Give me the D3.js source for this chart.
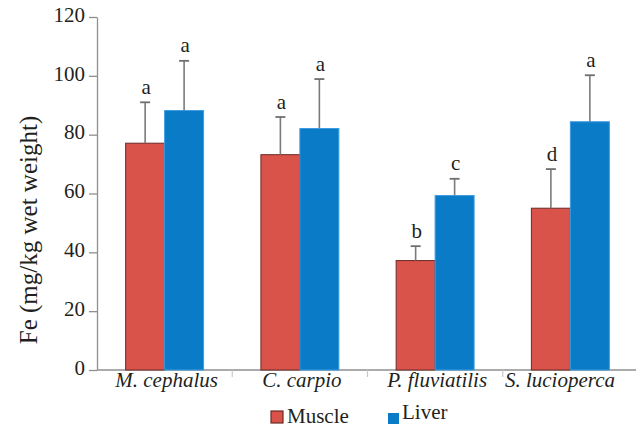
<!DOCTYPE html>
<html>
<head>
<meta charset="utf-8">
<script src="https://cdn.jsdelivr.net/npm/d3@7"></script>
<style>
  html, body { margin: 0; padding: 0; background: #fff; }
  svg { display: block; }
  svg text { font-family: 'Liberation Serif', 'Times New Roman', Times, 'DejaVu Serif', serif !important; fill: #231f20; }
</style>
</head>
<body>
<svg id="chart" width="636" height="427"></svg>
<script>
const categories = ["M. cephalus", "C. carpio", "P. fluviatilis", "S. lucioperca"];
const seriesNames = ["Muscle", "Liver"];
const muscleValues = [77.1, 73.2, 37.2, 55.0];
const muscleErrors = [13.9, 12.8, 4.9, 13.3];
const liverValues = [88.2, 82.1, 59.3, 84.4];
const liverErrors = [16.9, 16.8, 5.7, 15.8];
const muscleLetters = ["a", "a", "b", "d"];
const liverLetters = ["a", "a", "c", "a"];
const yTicks = [0, 20, 40, 60, 80, 100, 120];
const yTitle = "Fe (mg/kg wet weight)";

const SERIF = "'Liberation Serif', 'Times New Roman', Times, 'DejaVu Serif', serif";
const colors = { Muscle: "#d9534a", Liver: "#0a7bc7" };
const strokes = { Muscle: "#6b2a24", Liver: "#3d9be0" };

const rows = categories.map((c, i) => ({
  cat: c,
  series: [
    { name: "Muscle", value: muscleValues[i], err: muscleErrors[i], letter: muscleLetters[i] },
    { name: "Liver", value: liverValues[i], err: liverErrors[i], letter: liverLetters[i] }
  ]
}));

const svg = d3.select("#chart");
const x0 = 97, x1 = 638, yBottom = 370, yTop = 17;

const x = d3.scaleBand().domain(categories).range([x0, x1]).paddingInner(0).paddingOuter(0);
const xs = d3.scaleBand().domain(seriesNames).range([0, x.bandwidth()]).paddingInner(0).paddingOuter(0.735);
const y = d3.scaleLinear().domain([0, 120]).range([yBottom, yTop]);

const axisColor = "#8f8f8f";

// Y axis
const yAxis = svg.append("g").attr("transform", `translate(${x0},0)`)
  .call(d3.axisLeft(y).tickValues(yTicks).tickSize(8).tickSizeOuter(0).tickPadding(4));
yAxis.attr("font-family", SERIF);
yAxis.select(".domain").attr("stroke", axisColor).attr("stroke-width", 1.3);
yAxis.selectAll(".tick line").attr("stroke", axisColor).attr("stroke-width", 1.3);
yAxis.selectAll(".tick text").attr("font-size", 21).attr("dy", "0.2em")
  .attr("font-family", SERIF).attr("fill", "#231f20");

// X axis line and separators
svg.append("line").attr("x1", x0).attr("x2", 636).attr("y1", yBottom).attr("y2", yBottom)
  .attr("stroke", axisColor).attr("stroke-width", 1.3);
svg.selectAll(".sep").data(categories.slice(1)).enter().append("line")
  .attr("x1", d => x(d)).attr("x2", d => x(d))
  .attr("y1", yBottom).attr("y2", yBottom + 7)
  .attr("stroke", "#c8c8c8").attr("stroke-width", 1.2);

// Bars
const groups = svg.selectAll(".grp").data(rows).enter().append("g")
  .attr("transform", d => `translate(${x(d.cat)},0)`);

groups.selectAll("rect").data(d => d.series).enter().append("rect")
  .attr("x", d => xs(d.name))
  .attr("width", xs.bandwidth())
  .attr("y", d => y(d.value))
  .attr("height", d => y(0) - y(d.value))
  .attr("fill", d => colors[d.name])
  .attr("stroke", d => strokes[d.name])
  .attr("stroke-width", 1);

// Error bars
const capW = 10;
groups.selectAll(".err").data(d => d.series).enter().append("line")
  .attr("x1", d => xs(d.name) + xs.bandwidth() / 2)
  .attr("x2", d => xs(d.name) + xs.bandwidth() / 2)
  .attr("y1", d => y(d.value))
  .attr("y2", d => y(d.value + d.err))
  .attr("stroke", "#7a7a7a").attr("stroke-width", 1.6);
groups.selectAll(".cap").data(d => d.series).enter().append("line")
  .attr("x1", d => xs(d.name) + xs.bandwidth() / 2 - capW / 2)
  .attr("x2", d => xs(d.name) + xs.bandwidth() / 2 + capW / 2)
  .attr("y1", d => y(d.value + d.err))
  .attr("y2", d => y(d.value + d.err))
  .attr("stroke", "#6f6f6f").attr("stroke-width", 1.8);

// Letters
groups.selectAll(".lbl").data(d => d.series).enter().append("text")
  .attr("x", d => xs(d.name) + xs.bandwidth() / 2 + 1)
  .attr("y", d => y(d.value + d.err) - 8.5)
  .attr("text-anchor", "middle")
  .attr("font-family", SERIF)
  .attr("font-size", 21)
  .text(d => d.letter);

// Category labels
const catLabels = svg.selectAll(".cat").data(categories).enter().append("text")
  .attr("y", 387)
  .attr("text-anchor", "middle")
  .attr("font-family", SERIF)
  .attr("font-size", 21)
  .attr("font-style", "italic")
  .text(d => d);
catLabels.each(function(d) {
  const w = this.getComputedTextLength();
  const cx = Math.min(x(d) + x.bandwidth() / 2 + 2, 615 - w / 2);
  d3.select(this).attr("x", cx);
});

// Y title
svg.append("text")
  .attr("transform", `translate(37,230) rotate(-90)`)
  .attr("text-anchor", "middle")
  .attr("font-family", SERIF)
  .attr("font-size", 25)
  .text(yTitle);

// Legend
const legend = [
  { name: "Muscle", sx: 271, sy: 411, s: 12, tx: 287, ty: 423, border: "#6b2a24" },
  { name: "Liver", sx: 388, sy: 413, s: 11, tx: 402, ty: 419, border: "none" }
];
const lg = svg.selectAll(".leg").data(legend).enter().append("g");
lg.append("rect").attr("x", d => d.sx).attr("y", d => d.sy)
  .attr("width", d => d.s).attr("height", d => d.s)
  .attr("fill", d => colors[d.name]).attr("stroke", d => d.border).attr("stroke-width", 1.2);
lg.append("text").attr("x", d => d.tx).attr("y", d => d.ty)
  .attr("font-family", SERIF)
  .attr("font-size", 21).text(d => d.name);
</script>
</body>
</html>
